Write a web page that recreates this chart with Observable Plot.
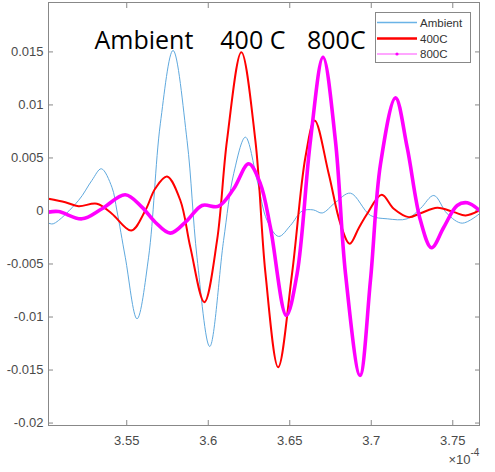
<!DOCTYPE html>
<html>
<head>
<meta charset="utf-8">
<script src="https://cdn.jsdelivr.net/npm/d3@7"></script>
<script src="https://cdn.jsdelivr.net/npm/@observablehq/plot@0.6"></script>
<style>
  html, body { margin: 0; padding: 0; background: #fff; }
  #chart { position: relative; width: 495px; height: 472px; }
</style>
</head>
<body>
<div id="chart"></div>
<script>
// x values in units of 1e-4 (axis shows ×10^-4)
const xTicks = [3.55, 3.6, 3.65, 3.7, 3.75];
const xTickLabels = ["3.55", "3.6", "3.65", "3.7", "3.75"];
const yTicks = [-0.02, -0.015, -0.01, -0.005, 0, 0.005, 0.01, 0.015];
const yTickLabels = ["-0.02", "-0.015", "-0.01", "-0.005", "0", "0.005", "0.01", "0.015"];
const seriesNames = ["Ambient", "400C", "800C"];

const ambient = [
  [3.5021,-0.00115],[3.5049,-0.00121],[3.5204,0.00099],[3.5286,0.00288],[3.5344,0.00398],
  [3.5409,0.00224],[3.5440,0],[3.5491,-0.00436],[3.5563,-0.01017],[3.5634,-0.00436],
  [3.5706,0.00822],[3.5784,0.01514],[3.5870,0.00665],[3.5931,-0.00436],[3.6009,-0.01278],
  [3.6094,-0.00278],[3.6156,0.00351],[3.6228,0.00696],[3.6300,0.00288],[3.6361,-0.0009],
  [3.6432,-0.0024],[3.6504,-0.00137],[3.6577,0],[3.6645,0.0001],[3.6699,-0.00019],
  [3.6780,0.0008],[3.6872,0.00168],[3.6995,-0.00042],[3.7098,-0.00074],[3.7220,-0.00074],
  [3.7302,0.00024],[3.7384,0.00146],[3.7466,-0.00026],[3.7558,-0.00115],[3.7664,-0.00026]
];
const t400 = [
  [3.5020,0.00115],[3.5123,0.00083],[3.5204,0.00045],[3.5317,0.00068],[3.5409,-0.00026],
  [3.5528,-0.00184],[3.5614,0.00005],[3.5675,0.00212],[3.5747,0.00325],[3.5829,0.00099],
  [3.5890,-0.00341],[3.5976,-0.0086],[3.6054,-0.00278],[3.6115,0.00665],[3.6203,0.01497],
  [3.6289,0.00665],[3.6351,-0.00589],[3.6429,-0.01473],[3.6514,-0.00592],[3.6596,0.00507],
  [3.6653,0.00853],[3.6739,0.00351],[3.6811,-0.00121],[3.6868,-0.00309],[3.6922,-0.00165],
  [3.6975,-0.00026],[3.7064,0.00153],[3.7138,0.00021],[3.7230,-0.00058],[3.7302,-0.00021],
  [3.7405,0.0003],[3.7507,-0.00011],[3.7579,-0.00042],[3.7664,0.00005]
];
const t800 = [
  [3.5020,-0.00011],[3.5081,-0.00005],[3.5225,-0.00074],[3.5348,0.00021],[3.5491,0.00153],
  [3.5593,0.00036],[3.5675,-0.00106],[3.5767,-0.00209],[3.5870,-0.0009],[3.5962,0.00052],
  [3.6064,0.00045],[3.6156,0.00209],[3.6248,0.00445],[3.6320,0.00256],[3.6381,-0.00153],
  [3.6479,-0.00985],[3.6545,-0.00592],[3.6627,0.00665],[3.6704,0.0145],[3.6780,0.00665],
  [3.6842,-0.00592],[3.6931,-0.01551],[3.6995,-0.00655],[3.7057,0.00445],[3.7149,0.01067],
  [3.7220,0.00602],[3.7302,-0.0009],[3.7370,-0.00347],[3.7445,-0.00153],[3.7527,0.00052],
  [3.7589,0.00077],[3.7664,0.00005]
];
const annotations = [
  {text: "Ambient", x: 3.5302, y: 0.01528},
  {text: "400 C", x: 3.6074, y: 0.01528},
  {text: "800C", x: 3.6606, y: 0.01528}
];

const colors = {ambient: "#5fa9de", t400: "#ff0000", t800: "#ff00ff"};
const toRows = (arr) => arr.map(([x, y]) => ({x, y}));

const chart = Plot.plot({
  width: 495,
  height: 472,
  marginTop: 2,
  marginBottom: 47,
  marginLeft: 48,
  marginRight: 16,
  style: {fontFamily: "'Liberation Sans', Arial, sans-serif", fontSize: "13px", color: "#4a4a4a", background: "#fff"},
  x: {domain: [3.502, 3.7664]},
  y: {domain: [-0.02023, 0.01966]},
  marks: [
    Plot.axisX(xTicks, {anchor: "bottom", tickSize: 0, tickPadding: 10, tickFormat: (d, i) => xTickLabels[i], label: null, fontSize: 13}),
    Plot.axisY(yTicks, {anchor: "left", tickSize: 0, tickPadding: 5, tickFormat: (d, i) => yTickLabels[i], label: null, fontSize: 13}),
    Plot.axisX(xTicks, {anchor: "bottom", tickSize: -5, tickFormat: () => "", label: null, stroke: "#888"}),
    Plot.axisX(xTicks, {anchor: "top", tickSize: -5, tickFormat: () => "", label: null, stroke: "#888"}),
    Plot.axisY(yTicks, {anchor: "left", tickSize: -5, tickFormat: () => "", label: null, stroke: "#888"}),
    Plot.axisY(yTicks, {anchor: "right", tickSize: -5, tickFormat: () => "", label: null, stroke: "#888"}),
    Plot.line(toRows(ambient), {x: "x", y: "y", stroke: colors.ambient, strokeWidth: 1, curve: "catmull-rom", clip: true}),
    Plot.line(toRows(t400), {x: "x", y: "y", stroke: colors.t400, strokeWidth: 2, curve: "catmull-rom", clip: true}),
    Plot.line(toRows(t800), {x: "x", y: "y", stroke: colors.t800, strokeWidth: 3.6, curve: "catmull-rom", clip: true}),
    Plot.text(annotations, {x: "x", y: "y", text: "text", textAnchor: "start", lineAnchor: "bottom", fontSize: 25, fontFamily: "'Open Sans', sans-serif", fill: "#000"}),
    Plot.frame({stroke: "#888"}),
    Plot.text(["×10"], {frameAnchor: "bottom-right", dx: -9, dy: 34, textAnchor: "end", lineAnchor: "middle", fontSize: 13, fill: "#4a4a4a"}),
    Plot.text(["-4"], {frameAnchor: "bottom-right", dx: -9, dy: 27, textAnchor: "start", lineAnchor: "middle", fontSize: 10, fill: "#4a4a4a"})
  ]
});

document.getElementById("chart").appendChild(chart);

// Legend drawn inside the plot area
const svg = d3.select(chart);
const lg = svg.append("g").attr("class", "legend").attr("text-anchor", "start");
lg.append("rect").attr("x", 375.5).attr("y", 12.5).attr("width", 95).attr("height", 50)
  .attr("fill", "#fff").attr("stroke", "#888").attr("stroke-width", 1);
const legendRows = [
  {name: seriesNames[0], color: "#6ab3e6", width: 1.5, dot: false, y: 22.5},
  {name: seriesNames[1], color: "#ff0000", width: 2.5, dot: false, y: 38.5},
  {name: seriesNames[2], color: "#ff88ff", width: 1.5, dot: true, y: 54}
];
legendRows.forEach(r => {
  lg.append("line").attr("x1", 377).attr("x2", 417).attr("y1", r.y).attr("y2", r.y)
    .attr("stroke", r.color).attr("stroke-width", r.width);
  if (r.dot) lg.append("circle").attr("cx", 397).attr("cy", r.y).attr("r", 1.6).attr("fill", "#ff00ff");
  lg.append("text").attr("x", 420).attr("y", r.y).attr("dy", "0.36em")
    .attr("text-anchor", "start")
    .attr("font-family", "'Liberation Sans', Arial, sans-serif").attr("font-size", 11.5)
    .attr("fill", "#333").text(r.name);
});
</script>
</body>
</html>
